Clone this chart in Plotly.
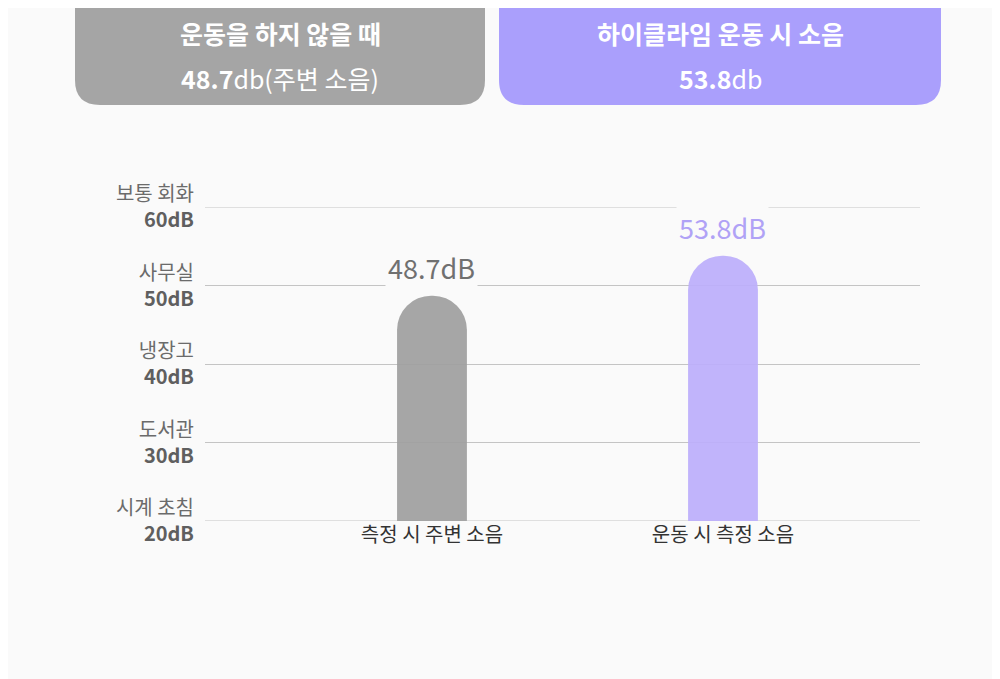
import plotly.graph_objects as go

categories = ["측정 시 주변 소음", "운동 시 측정 소음"]
values = [48.7, 53.8]
bar_colors = ["#9e9e9e", "#bcaefb"]
label_colors = ["#707070", "#b0a2f6"]
tick_vals = [20, 30, 40, 50, 60]
tick_names = ["시계 초침", "도서관", "냉장고", "사무실", "보통 회화"]

FONT = "Noto Sans CJK KR"
OFF = 8  # page offset in the screenshot

tick_text = [
    f"<span style='color:#6b6b6b'>{n}</span><br><b><span style='color:#5f5f5f'>{v}dB</span></b>"
    for n, v in zip(tick_names, tick_vals)
]
xpos = list(range(len(categories)))

fig = go.Figure()
fig.add_trace(go.Bar(
    x=xpos,
    y=values,
    marker=dict(color=bar_colors, cornerradius=35, line=dict(width=0)),
    opacity=0.92,
    width=0.24,
    hoverinfo="skip",
))

for c, v, col in zip(xpos, values, label_colors):
    fig.add_annotation(
        x=c, y=v, yshift=28, text=f"{v}dB", showarrow=False,
        font=dict(family=FONT, size=27, color=col),
        bgcolor="#fafafa", borderpad=2,
    )

# plot area in target px: x 205..920, y 207..521
def px(xp):
    return (xp - 205) / 715

def py(yp):
    return (521 - yp) / 314

# grid lines at the range ends
for yv in (20, 60):
    fig.add_shape(type="line", xref="paper", x0=0, x1=1, y0=yv, y1=yv,
                  line=dict(color="#c4c4c4", width=1), layer="below")

def box(x0, x1, y0, y1, rx, ry, color):
    return dict(
        type="path", xref="paper", yref="paper", fillcolor=color, line=dict(width=0),
        path=(f"M {x0},{y1} L {x1},{y1} L {x1},{y0 + ry} "
              f"Q {x1},{y0} {x1 - rx},{y0} L {x0 + rx},{y0} "
              f"Q {x0},{y0} {x0},{y0 + ry} Z"),
    )

rx, ry = 25 / 715, 25 / 314
fig.add_shape(box(px(75), px(485), py(105), py(-10), rx, ry, "#a5a5a5"))
fig.add_shape(box(px(499), px(941), py(105), py(-10), rx, ry, "#aa9ffc"))

header = [
    (280, 33, "<b>운동을 하지 않을 때</b>"),
    (280, 78, "<b>48.7</b>db(주변 소음)"),
    (720, 33, "<b>하이클라임 운동 시 소음</b>"),
    (720, 78, "<b>53.8</b>db"),
]
for hx, hy, txt in header:
    fig.add_annotation(xref="paper", yref="paper", x=px(hx), y=py(hy),
                       xanchor="center", yanchor="middle", showarrow=False,
                       text=txt, font=dict(family=FONT, size=25, color="white"))

fig.update_layout(
    width=1000, height=679,
    margin=dict(l=205 - OFF, r=80 + OFF, t=207 - OFF, b=158 + OFF),
    paper_bgcolor="#fafafa", plot_bgcolor="#fafafa",
    showlegend=False,
    font=dict(family=FONT),
)
fig.update_xaxes(
    range=[-0.78, 1.677], tickvals=xpos, ticktext=categories,
    showgrid=False, showline=False, ticks="", zeroline=False,
    tickfont=dict(size=20, color="#333333"),
)
fig.update_yaxes(
    range=[20, 60], tickvals=tick_vals, ticktext=tick_text,
    showgrid=True, gridcolor="#c4c4c4", gridwidth=1, zeroline=False,
    tickfont=dict(size=20), ticks="", ticklabelstandoff=10,
)

fig.write_html("out.html")
